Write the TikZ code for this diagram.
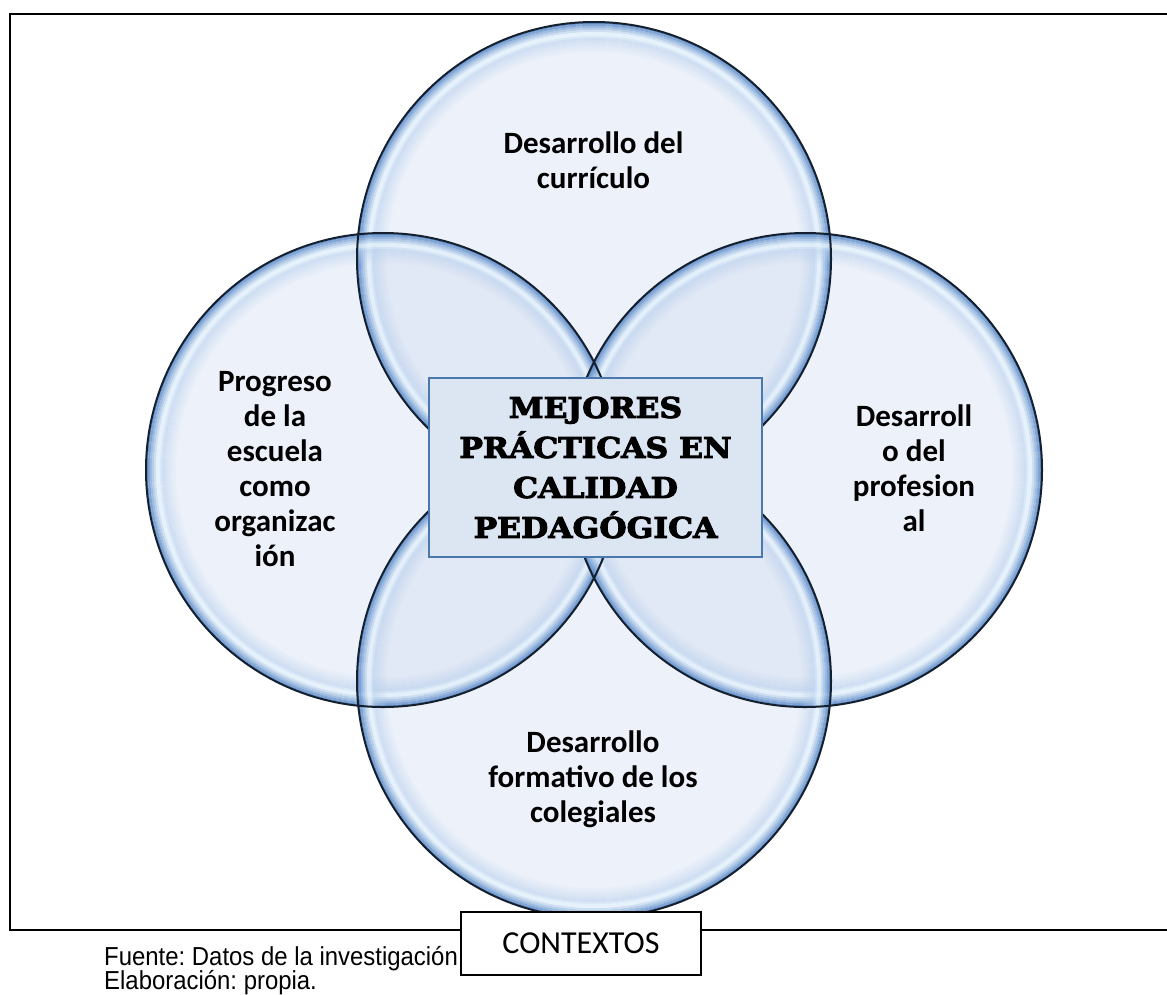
\documentclass[tikz,border=0pt]{standalone}
\usepackage{fontspec}
\setmainfont{Carlito}
\newfontfamily\footfont[FakeStretch=0.92]{Liberation Sans}
\newfontfamily\heavyfont[UprightFont={* Bold},FakeBold=3.5,FakeStretch=1.1]{DejaVu Serif}
\definecolor{bubin}{HTML}{CEDAF1}
\definecolor{ringE}{HTML}{5585C6}
\definecolor{ringH}{HTML}{E4F2FC}
\definecolor{ringM}{HTML}{B9D0EE}
\definecolor{bubline}{HTML}{15202E}
\definecolor{boxfill}{HTML}{DCE6F2}
\definecolor{boxline}{HTML}{4A78AC}
\tikzset{
  lbl/.style={font=\bfseries\fontsize{31}{35}\selectfont, align=center, inner sep=0pt, text=black},
  framebox/.style={draw=black, line width=1.5pt},
}
\begin{document}
\frenchspacing
\begin{tikzpicture}[x=1pt,y=-1pt]
\useasboundingbox (0,0) rectangle (1167,994);
\fill[white] (0,0) rectangle (1167,994);
% outer frame
\draw[framebox] (1167,14) -- (10,14) -- (10,930) -- (1167,930);
% circle centres
\coordinate (cT) at (594,259);
\coordinate (cL) at (383,470);
\coordinate (cR) at (805,470);
\coordinate (cB) at (594,681);
% translucent interiors
\foreach \c in {cT,cL,cR,cB}
  \fill[bubin, fill opacity=0.35] (\c) circle[radius=237];
% glassy rings
\foreach \c in {cT,cL,cR,cB}{
  \foreach \s/\col/\op in {1/ringE/0.88, 3/ringE!85!ringH/0.82, 5/ringE!65!ringH/0.77, 7/ringE!45!ringH/0.73, 9/ringE!22!ringH/0.72, 11/ringH/0.75, 13/ringH/0.72, 15/ringH!50!ringM/0.62, 17/ringM/0.54, 19/ringM/0.46, 21/ringM/0.38, 23/ringM/0.3, 25/ringM/0.22, 27/ringM/0.14, 29/ringM/0.07}
    \draw[line width=2.05pt, draw=\col, draw opacity=\op] (\c) circle[radius={237-\s}];
}
% borders
\foreach \c in {cT,cL,cR,cB}
  \draw[bubline, line width=2pt] (\c) circle[radius=237];
% labels
\node[lbl] (tT) at (593.5,160) {Desarrollo del\\currículo};
\node[lbl] (tL) at (275,469.5) {Progreso\\de la\\escuela\\como\\organizac\\ión};
\node[lbl] (tR) at (914,468.5) {Desarroll\\o del\\profesion\\al};
\node[lbl] (tB) at (593,779.5) {Desarrollo\\formativo de los\\colegiales};
% central box
\node[draw=boxline, fill=boxfill, line width=2.5pt, minimum width=333pt, minimum height=179pt,
      inner sep=0pt, align=center, font=\heavyfont\fontsize{28.5}{40}\selectfont] (core) at (595.5,467.5)
      {MEJORES\\PRÁCTICAS EN\\CALIDAD\\PEDAGÓGICA};
% contexts box
\node[draw=black, fill=white, line width=1.5pt, minimum width=240pt, minimum height=63pt,
      inner sep=0pt, font=\fontsize{32}{34}\selectfont] (ctx) at (581,943.5) {\raisebox{-5pt}{CONTEXTOS}};
% footer
\node[anchor=base west, inner sep=0pt, font=\footfont\fontsize{26}{28}\selectfont] (src) at (104,965) {Fuente: Datos de la investigación};
\node[anchor=base west, inner sep=0pt, font=\footfont\fontsize{26}{28}\selectfont] (elab) at (104,989) {Elaboración: propia.};
\end{tikzpicture}
\end{document}
